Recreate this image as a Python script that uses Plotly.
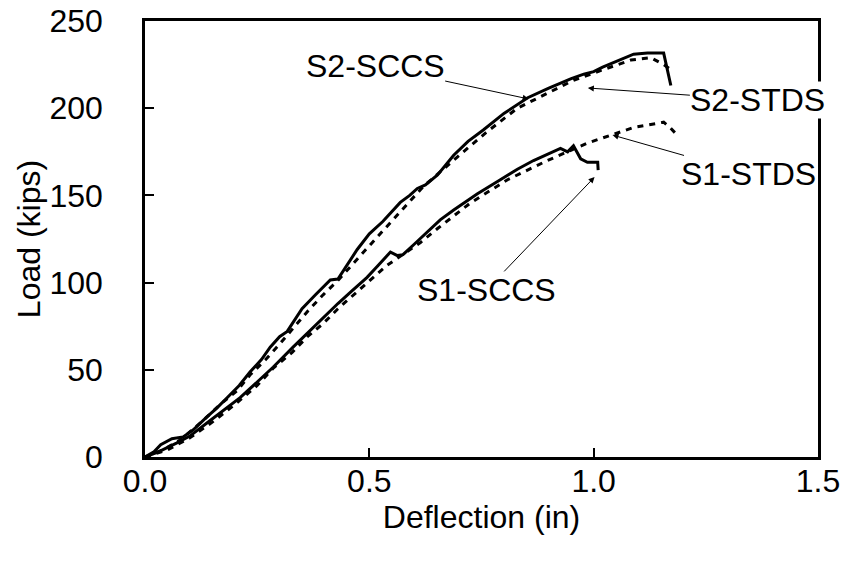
import plotly.graph_objects as go

# S2-SCCS (solid, upper)
s2_sccs_x = [0, 0.02, 0.035, 0.06, 0.085, 0.107, 0.138, 0.16, 0.183, 0.21, 0.234, 0.26, 0.279, 0.30, 0.317,
             0.35, 0.38, 0.413, 0.43, 0.45, 0.473, 0.50, 0.53, 0.569, 0.59, 0.607, 0.625, 0.652, 0.688, 0.72,
             0.754, 0.80, 0.853, 0.90, 0.926, 0.95, 0.978, 1.0, 1.02, 1.06, 1.089, 1.12, 1.156, 1.172]
s2_sccs_y = [0, 3, 7, 10.5, 11.5, 15.5, 23, 28, 34, 41, 48.7, 56, 63, 69, 72,
             85, 93, 101.5, 102, 110, 119, 128, 135, 146, 150, 154, 156, 161.7, 173, 181,
             187.5, 197, 206, 211.5, 214.5, 217, 219.5, 221, 223.5, 228, 231, 231.6, 231.6, 213]

# S2-STDS (dashed, upper)
s2_stds_x = [0, 0.04, 0.08, 0.13, 0.167, 0.205, 0.234, 0.268, 0.301, 0.364, 0.397, 0.431, 0.496, 0.5625,
             0.62, 0.696, 0.76, 0.83, 0.90, 0.955, 1.02, 1.083, 1.127, 1.156, 1.178]
s2_stds_y = [0, 4, 10, 21, 30, 38, 47, 55.6, 65, 84, 93, 101.5, 120, 139,
             155, 172, 186, 200, 209, 216, 222, 227.6, 229, 225, 221]

# S1-SCCS (solid, lower)
s1_sccs_x = [0, 0.03, 0.07, 0.10, 0.138, 0.175, 0.212, 0.25, 0.286, 0.33, 0.37, 0.40, 0.43, 0.46, 0.495,
             0.52, 0.547, 0.5625, 0.575, 0.60, 0.62, 0.658, 0.688, 0.741, 0.792, 0.83, 0.866, 0.90, 0.926,
             0.942, 0.955, 0.971, 0.986, 1.009, 1.01]
s1_sccs_y = [0, 3, 8, 12, 19.5, 27, 34, 43, 51.6, 63, 73, 81, 88, 95, 103,
             110, 117.5, 115.5, 116, 122, 127, 136, 141.6, 151, 159, 165, 170, 174, 177,
             175, 178.5, 171, 169, 169, 164.5]

# S1-STDS (dashed, lower)
s1_stds_x = [0, 0.05, 0.10, 0.15, 0.20, 0.25, 0.286, 0.328, 0.362, 0.397, 0.43, 0.464, 0.50, 0.54,
             0.614, 0.652, 0.725, 0.808, 0.897, 0.986, 1.09, 1.156, 1.17, 1.19]
s1_stds_y = [0, 4, 11, 20, 30, 41, 51, 60, 69, 76.5, 85, 93, 101, 110,
             123, 131, 145.6, 159, 170, 180, 189, 192, 189, 183.5]

x_ticks = [0.0, 0.5, 1.0, 1.5]
y_ticks = [0, 50, 100, 150, 200, 250]

# labels: text, arrow head (x, y), text centre (x, y)
label_text = ["S2-SCCS", "S2-STDS", "S1-STDS", "S1-SCCS"]
label_head_x = [0.855, 0.987, 1.042, 1.002]
label_head_y = [205.3, 211.6, 184.6, 160.5]
label_pos_x = [0.513, 1.366, 1.346, 0.761]
label_pos_y = [224.2, 204.7, 162.3, 95.8]

FONT = "Liberation Sans, Arial, sans-serif"
FS = 32

fig = go.Figure()
series = [
    (s2_sccs_x, s2_sccs_y, "solid"),
    (s2_stds_x, s2_stds_y, "6px,6px"),
    (s1_sccs_x, s1_sccs_y, "solid"),
    (s1_stds_x, s1_stds_y, "6px,6px"),
]
for xs, ys, dash in series:
    fig.add_trace(go.Scatter(x=xs, y=ys, mode="lines",
                             line=dict(color="black", width=3, dash=dash),
                             showlegend=False, hoverinfo="skip"))

for t, hx, hy, px, py in zip(label_text, label_head_x, label_head_y, label_pos_x, label_pos_y):
    fig.add_annotation(x=hx, y=hy, ax=px, ay=py, xref="x", yref="y", axref="x", ayref="y",
                       text=t, showarrow=True, arrowhead=2, arrowsize=1.2, arrowwidth=1,
                       arrowcolor="black", bgcolor="white", borderpad=0,
                       font=dict(family=FONT, size=FS, color="black"))

fig.update_layout(
    width=845, height=563,
    margin=dict(l=145, r=27, t=21, b=106, autoexpand=False),
    paper_bgcolor="white", plot_bgcolor="white",
    font=dict(family=FONT, size=FS, color="black"),
)
fig.update_xaxes(range=[0, 1.5], tickvals=x_ticks, ticktext=[f"{v:.1f}" for v in x_ticks],
                 showgrid=False, zeroline=False, showline=True, linecolor="black", linewidth=2.5,
                 mirror=True, ticks="inside", ticklen=9, tickwidth=2, tickcolor="black",
                 ticklabelstandoff=-6, automargin=False,
                 title=dict(text="Deflection (in)", standoff=0, font=dict(family=FONT, size=FS)))
fig.update_yaxes(range=[0, 250], tickvals=y_ticks, ticktext=[str(v) for v in y_ticks],
                 showgrid=False, zeroline=False, showline=True, linecolor="black", linewidth=2.5,
                 mirror=True, ticks="inside", ticklen=9, tickwidth=2, tickcolor="black",
                 ticklabelstandoff=33, automargin=False,
                 title=dict(text="Load (kips)", standoff=0, font=dict(family=FONT, size=FS)))

fig.write_html("out.html")
